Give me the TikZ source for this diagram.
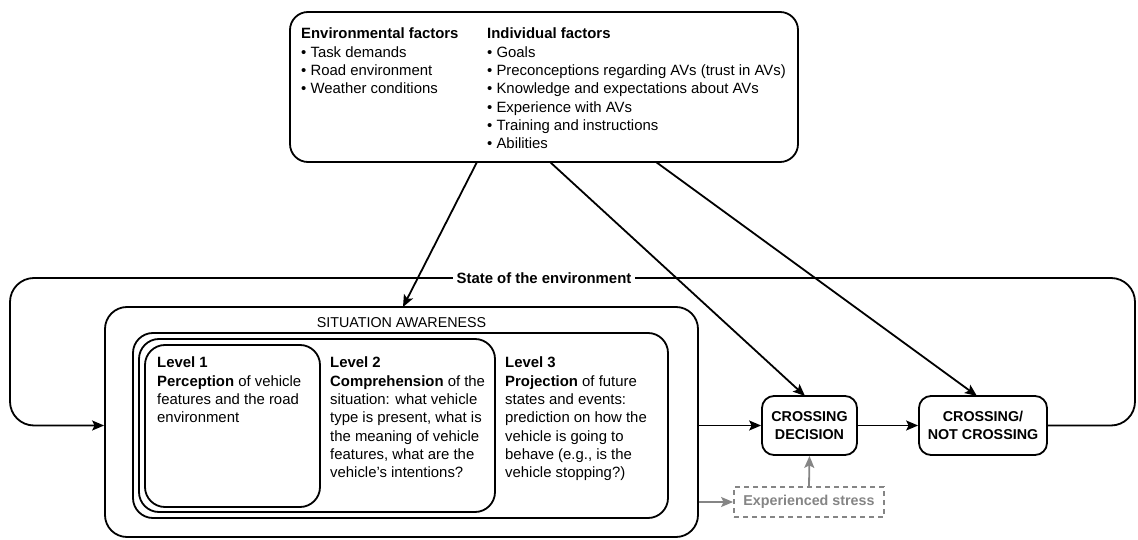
\documentclass[tikz,border=0pt]{standalone}
\usepackage{fontspec}
\setmainfont{Liberation Sans}
\usetikzlibrary{arrows.meta}
\definecolor{stressgray}{HTML}{858585}
\begin{document}
\begin{tikzpicture}[x=1pt,y=-1pt,
  every node/.style={font=\fontsize{14.9}{18.3}\selectfont},
  small/.style={font=\fontsize{14.3}{18.3}\selectfont},
  smallbf/.style={font=\bfseries\fontsize{14.3}{18.3}\selectfont},
  box/.style={draw,line width=1.8pt,inner sep=0pt},
  txt/.style={anchor=north west,inner sep=0pt,align=left},
  arr/.style={line width=1.8pt,-{Stealth[length=12pt,width=10pt,inset=2.5pt]}},
  garr/.style={line width=1.8pt,draw=stressgray,-{Stealth[length=12pt,width=10pt,inset=2.5pt]}}
]
\useasboundingbox (0,0) rectangle (1138,540);

% top factors box
\node[box,rounded corners=18pt,minimum width=508pt,minimum height=150pt] (top) at (544,87) {};
\node[txt] (envt) at (301,28) {\textbf{Environmental factors}\\• Task demands\\• Road environment\\• Weather conditions};
\node[txt] (indt) at (487,28) {\textbf{Individual factors}\\• Goals\\• Preconceptions regarding AVs (trust in AVs)\\• Knowledge and expectations about AVs\\• Experience with AVs\\• Training and instructions\\• Abilities};

% situation awareness
\node[box,rounded corners=22pt,minimum width=593pt,minimum height=230pt] (sa) at (401.5,422) {};
\node[anchor=north,inner sep=0pt,small] (satitle) at (401.5,317) {SITUATION AWARENESS};
\node[box,rounded corners=20pt,minimum width=535pt,minimum height=185pt] (l3) at (400.5,425.5) {};
\node[box,rounded corners=20pt,minimum width=356pt,minimum height=173pt] (l2) at (317,425.5) {};
\node[box,rounded corners=20pt,minimum width=175pt,minimum height=162pt] (l1) at (232.5,426) {};
\node[txt] (l1t) at (157,357) {\textbf{Level 1}\\\textbf{Perception} of vehicle\\features and the road\\environment};
\node[txt] (l2t) at (330,357) {\textbf{Level 2}\\\textbf{Comprehension} of the\\situation: what vehicle\\type is present, what is\\the meaning of vehicle\\features, what are the\\vehicle’s intentions?};
\node[txt] (l3t) at (505,357) {\textbf{Level 3}\\\textbf{Projection} of future\\states and events:\\prediction on how the\\vehicle is going to\\behave (e.g., is the\\vehicle stopping?)};

% decision boxes
\node[box,rounded corners=12pt,minimum width=95pt,minimum height=59pt,align=center,smallbf] (cd) at (809.5,425.5) {CROSSING\\DECISION};
\node[box,rounded corners=12pt,minimum width=128pt,minimum height=59pt,align=center,smallbf] (cnc) at (983,425.5) {CROSSING/\\NOT CROSSING};
\node[draw=stressgray,line width=1.8pt,dash pattern=on 5pt off 4pt,minimum width=150pt,minimum height=30pt,inner sep=0pt,text=stressgray,smallbf] (stress) at (809,502) {Experienced stress};

% environment loop
\coordinate (r1) at (1135,425.5);
\coordinate (r2) at (1135,278);
\coordinate (l1c) at (10,278);
\coordinate (l2c) at (10,425.5);
\draw[arr,rounded corners=24pt] (cnc.east) -- (r1) -- (r2) -- (l1c) -- (l2c) -- (sa.west |- l2c);
\node[fill=white,inner sep=4pt,font=\bfseries\fontsize{14.9}{18.3}\selectfont] (env) at (544,278) {State of the environment};

% flow arrows
\draw[arr] (sa.east |- cd.west) -- (cd.west);
\draw[arr] (cd.east) -- (cnc.west);
\draw[garr] (sa.east |- stress.west) -- (stress.west);
\draw[garr] (stress.north) -- (cd.south);

% factor arrows
\coordinate (t1) at (477,162);
\coordinate (t2) at (550,162);
\coordinate (t3) at (656,162);
\draw[arr] (t1) -- (403,307);
\draw[arr] (t2) -- (805,396);
\draw[arr] (t3) -- (977,396);
\end{tikzpicture}
\end{document}
